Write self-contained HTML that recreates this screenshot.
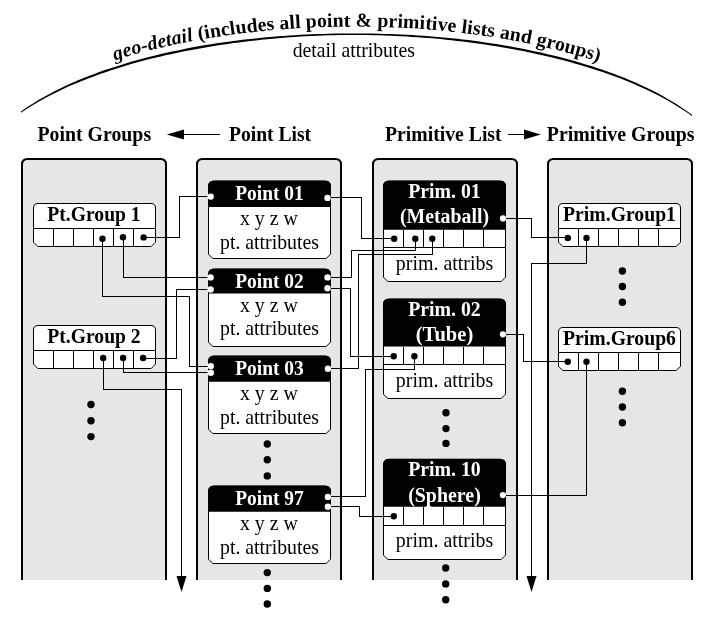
<!DOCTYPE html>
<html><head><meta charset="utf-8"><title>geo-detail</title>
<style>html,body{margin:0;padding:0;background:#fff;}svg{display:block;will-change:transform;}text{font-family:"Liberation Serif",serif;}</style></head><body>
<svg width="718" height="618" viewBox="0 0 718 618">
<rect width="718" height="618" fill="#fff"/>
<path d="M21.0 111.4 L26.6 107.5 L32.2 103.9 L37.8 100.5 L43.4 97.2 L49.0 94.2 L54.5 91.3 L60.1 88.5 L65.7 85.8 L71.3 83.3 L76.9 80.8 L82.5 78.5 L88.1 76.3 L93.7 74.2 L99.3 72.1 L104.9 70.1 L110.5 68.2 L116.1 66.4 L121.7 64.7 L127.2 63.0 L132.8 61.3 L138.4 59.8 L144.0 58.3 L149.6 56.8 L155.2 55.4 L160.8 54.1 L166.4 52.8 L172.0 51.6 L177.6 50.4 L183.2 49.2 L188.8 48.1 L194.3 47.1 L199.9 46.1 L205.5 45.1 L211.1 44.2 L216.7 43.3 L222.3 42.5 L227.9 41.7 L233.5 41.0 L239.1 40.3 L244.7 39.6 L250.3 39.0 L255.8 38.4 L261.4 37.8 L267.0 37.3 L272.6 36.8 L278.2 36.3 L283.8 35.9 L289.4 35.5 L295.0 35.2 L300.6 34.8 L306.2 34.6 L311.8 34.3 L317.4 34.1 L322.9 33.9 L328.5 33.7 L334.1 33.6 L339.7 33.5 L345.3 33.5 L350.9 33.5 L356.5 33.5 L362.1 33.5 L367.7 33.5 L373.3 33.6 L378.9 33.7 L384.5 33.9 L390.1 34.0 L395.6 34.3 L401.2 34.5 L406.8 34.8 L412.4 35.1 L418.0 35.4 L423.6 35.8 L429.2 36.2 L434.8 36.7 L440.4 37.2 L446.0 37.7 L451.6 38.3 L457.1 38.8 L462.7 39.5 L468.3 40.1 L473.9 40.8 L479.5 41.6 L485.1 42.4 L490.7 43.2 L496.3 44.1 L501.9 45.0 L507.5 45.9 L513.1 46.9 L518.7 48.0 L524.2 49.0 L529.8 50.2 L535.4 51.4 L541.0 52.6 L546.6 53.9 L552.2 55.2 L557.8 56.6 L563.4 58.0 L569.0 59.5 L574.6 61.1 L580.2 62.7 L585.8 64.4 L591.4 66.1 L596.9 67.9 L602.5 69.8 L608.1 71.7 L613.7 73.8 L619.3 75.9 L624.9 78.1 L630.5 80.4 L636.1 82.8 L641.7 85.4 L647.3 88.0 L652.9 90.8 L658.5 93.6 L664.0 96.7 L669.6 99.9 L675.2 103.3 L680.8 106.9 L686.4 110.7 L692.0 114.8 L692.0 116.1 L686.4 112.1 L680.8 108.4 L675.2 104.9 L669.6 101.6 L664.0 98.5 L658.5 95.5 L652.9 92.7 L647.3 90.0 L641.7 87.4 L636.1 84.9 L630.5 82.6 L624.9 80.3 L619.3 78.1 L613.7 76.0 L608.1 74.0 L602.5 72.1 L596.9 70.2 L591.4 68.4 L585.8 66.7 L580.2 65.0 L574.6 63.4 L569.0 61.8 L563.4 60.3 L557.8 58.9 L552.2 57.5 L546.6 56.2 L541.0 54.9 L535.4 53.7 L529.8 52.5 L524.2 51.3 L518.7 50.3 L513.1 49.2 L507.5 48.2 L501.9 47.2 L496.3 46.3 L490.7 45.4 L485.1 44.6 L479.5 43.7 L473.9 43.0 L468.3 42.2 L462.7 41.5 L457.1 40.9 L451.6 40.3 L446.0 39.7 L440.4 39.1 L434.8 38.6 L429.2 38.1 L423.6 37.7 L418.0 37.3 L412.4 36.9 L406.8 36.5 L401.2 36.2 L395.6 35.9 L390.1 35.7 L384.5 35.5 L378.9 35.3 L373.3 35.2 L367.7 35.1 L362.1 35.0 L356.5 34.9 L350.9 34.9 L345.3 35.0 L339.7 35.1 L334.1 35.2 L328.5 35.3 L322.9 35.5 L317.4 35.7 L311.8 36.0 L306.2 36.3 L300.6 36.6 L295.0 36.9 L289.4 37.3 L283.8 37.7 L278.2 38.2 L272.6 38.7 L267.0 39.2 L261.4 39.8 L255.8 40.4 L250.3 41.0 L244.7 41.7 L239.1 42.4 L233.5 43.1 L227.9 43.9 L222.3 44.7 L216.7 45.6 L211.1 46.5 L205.5 47.4 L199.9 48.4 L194.3 49.4 L188.8 50.4 L183.2 51.5 L177.6 52.7 L172.0 53.9 L166.4 55.1 L160.8 56.4 L155.2 57.7 L149.6 59.1 L144.0 60.6 L138.4 62.1 L132.8 63.6 L127.2 65.3 L121.7 67.0 L116.1 68.7 L110.5 70.5 L104.9 72.4 L99.3 74.3 L93.7 76.4 L88.1 78.5 L82.5 80.7 L76.9 83.0 L71.3 85.3 L65.7 87.8 L60.1 90.4 L54.5 93.2 L49.0 96.0 L43.4 99.0 L37.8 102.2 L32.2 105.5 L26.6 109.1 L21.0 112.8 Z" fill="#000"/>
<defs><path id="tp" d="M21.0 104.5 L26.6 100.7 L32.2 97.1 L37.8 93.7 L43.4 90.5 L49.0 87.5 L54.5 84.6 L60.1 81.9 L65.7 79.2 L71.3 76.7 L76.9 74.3 L82.5 72.0 L88.1 69.8 L93.7 67.7 L99.3 65.6 L104.9 63.7 L110.5 61.8 L116.1 60.0 L121.7 58.2 L127.2 56.5 L132.8 54.9 L138.4 53.3 L144.0 51.8 L149.6 50.4 L155.2 49.0 L160.8 47.7 L166.4 46.4 L172.0 45.1 L177.6 43.9 L183.2 42.8 L188.8 41.7 L194.3 40.6 L199.9 39.6 L205.5 38.7 L211.1 37.7 L216.7 36.9 L222.3 36.0 L227.9 35.2 L233.5 34.4 L239.1 33.7 L244.7 33.0 L250.3 32.4 L255.8 31.8 L261.4 31.2 L267.0 30.6 L272.6 30.1 L278.2 29.7 L283.8 29.2 L289.4 28.8 L295.0 28.4 L300.6 28.1 L306.2 27.8 L311.8 27.5 L317.4 27.3 L322.9 27.1 L328.5 26.9 L334.1 26.8 L339.7 26.7 L345.3 26.6 L350.9 26.6 L356.5 26.6 L362.1 26.6 L367.7 26.7 L373.3 26.8 L378.9 26.9 L384.5 27.1 L390.1 27.3 L395.6 27.5 L401.2 27.8 L406.8 28.1 L412.4 28.4 L418.0 28.8 L423.6 29.1 L429.2 29.6 L434.8 30.0 L440.4 30.5 L446.0 31.1 L451.6 31.7 L457.1 32.3 L462.7 32.9 L468.3 33.6 L473.9 34.3 L479.5 35.1 L485.1 35.9 L490.7 36.7 L496.3 37.6 L501.9 38.5 L507.5 39.5 L513.1 40.5 L518.7 41.5 L524.2 42.6 L529.8 43.7 L535.4 44.9 L541.0 46.1 L546.6 47.4 L552.2 48.8 L557.8 50.1 L563.4 51.6 L569.0 53.1 L574.6 54.6 L580.2 56.2 L585.8 57.9 L591.4 59.6 L596.9 61.4 L602.5 63.3 L608.1 65.3 L613.7 67.3 L619.3 69.4 L624.9 71.6 L630.5 73.9 L636.1 76.3 L641.7 78.8 L647.3 81.4 L652.9 84.1 L658.5 87.0 L664.0 90.0 L669.6 93.1 L675.2 96.5 L680.8 100.0 L686.4 103.8 L692.0 107.9"/></defs>
<text font-size="19.7" font-weight="bold" textLength="490.6" lengthAdjust="spacing"><textPath href="#tp" startOffset="104.1" textLength="490.6" lengthAdjust="spacing"><tspan font-style="italic">geo-detail</tspan> (includes all point &amp; primitive lists and groups)</textPath></text>
<text x="353.8" y="57" font-size="20.3" text-anchor="middle" fill="#000" textLength="122.3" lengthAdjust="spacingAndGlyphs">detail attributes</text>
<text x="37.5" y="140.8" font-size="20.3" text-anchor="start" fill="#000" font-weight="bold" textLength="113.6" lengthAdjust="spacingAndGlyphs">Point Groups</text>
<text x="229" y="140.8" font-size="20.3" text-anchor="start" fill="#000" font-weight="bold" textLength="82.1" lengthAdjust="spacingAndGlyphs">Point List</text>
<text x="385" y="140.8" font-size="20.3" text-anchor="start" fill="#000" font-weight="bold" textLength="116.6" lengthAdjust="spacingAndGlyphs">Primitive List</text>
<text x="546.8" y="140.8" font-size="20.3" text-anchor="start" fill="#000" font-weight="bold" textLength="147.8" lengthAdjust="spacingAndGlyphs">Primitive Groups</text>
<path d="M180 134.5 L220 134.5" fill="none" stroke="#000" stroke-width="1" shape-rendering="crispEdges"/>
<path d="M166.8 134.5 L184 129.5 L184 139.5 Z" fill="#000"/>
<path d="M508 134.5 L528 134.5" fill="none" stroke="#000" stroke-width="1" shape-rendering="crispEdges"/>
<path d="M540.8 134.5 L524 129.5 L524 139.5 Z" fill="#000"/>
<path d="M22 580 L22 164.5 Q22 159 27.5 159 L160.5 159 Q166 159 166 164.5 L166 580" fill="#e6e6e6" stroke="none"/>
<path d="M22 580 L22 164.5 Q22 159 27.5 159 L160.5 159 Q166 159 166 164.5 L166 580" fill="none" stroke="#000" stroke-width="2"/>
<path d="M197 580 L197 164.5 Q197 159 202.5 159 L335.5 159 Q341 159 341 164.5 L341 580" fill="#e6e6e6" stroke="none"/>
<path d="M197 580 L197 164.5 Q197 159 202.5 159 L335.5 159 Q341 159 341 164.5 L341 580" fill="none" stroke="#000" stroke-width="2"/>
<path d="M373 580 L373 164.5 Q373 159 378.5 159 L511.5 159 Q517 159 517 164.5 L517 580" fill="#e6e6e6" stroke="none"/>
<path d="M373 580 L373 164.5 Q373 159 378.5 159 L511.5 159 Q517 159 517 164.5 L517 580" fill="none" stroke="#000" stroke-width="2"/>
<path d="M548 580 L548 164.5 Q548 159 553.5 159 L686.5 159 Q692 159 692 164.5 L692 580" fill="#e6e6e6" stroke="none"/>
<path d="M548 580 L548 164.5 Q548 159 553.5 159 L686.5 159 Q692 159 692 164.5 L692 580" fill="none" stroke="#000" stroke-width="2"/>
<path d="M38.0 203.5 L151.0 203.5 Q155.5 203.5 155.5 208.0 L155.5 242.2 L151.2 246.5 L37.8 246.5 L33.5 242.2 L33.5 208.0 Q33.5 203.5 38.0 203.5 Z" fill="#fff" stroke="#000" stroke-width="1"/>
<path d="M33.5 228.5 L155.5 228.5" fill="none" stroke="#000" stroke-width="1" shape-rendering="crispEdges"/>
<path d="M53.5 228.5 L53.5 246.5" fill="none" stroke="#000" stroke-width="1" shape-rendering="crispEdges"/>
<path d="M73.5 228.5 L73.5 246.5" fill="none" stroke="#000" stroke-width="1" shape-rendering="crispEdges"/>
<path d="M93.5 228.5 L93.5 246.5" fill="none" stroke="#000" stroke-width="1" shape-rendering="crispEdges"/>
<path d="M113.5 228.5 L113.5 246.5" fill="none" stroke="#000" stroke-width="1" shape-rendering="crispEdges"/>
<path d="M133.5 228.5 L133.5 246.5" fill="none" stroke="#000" stroke-width="1" shape-rendering="crispEdges"/>
<text x="94" y="220.5" font-size="20.3" text-anchor="middle" fill="#000" font-weight="bold" textLength="93.3" lengthAdjust="spacingAndGlyphs">Pt.Group 1</text>
<path d="M38.0 325.5 L151.0 325.5 Q155.5 325.5 155.5 330.0 L155.5 364.2 L151.2 368.5 L37.8 368.5 L33.5 364.2 L33.5 330.0 Q33.5 325.5 38.0 325.5 Z" fill="#fff" stroke="#000" stroke-width="1"/>
<path d="M33.5 350.5 L155.5 350.5" fill="none" stroke="#000" stroke-width="1" shape-rendering="crispEdges"/>
<path d="M53.5 350.5 L53.5 368.5" fill="none" stroke="#000" stroke-width="1" shape-rendering="crispEdges"/>
<path d="M73.5 350.5 L73.5 368.5" fill="none" stroke="#000" stroke-width="1" shape-rendering="crispEdges"/>
<path d="M93.5 350.5 L93.5 368.5" fill="none" stroke="#000" stroke-width="1" shape-rendering="crispEdges"/>
<path d="M113.5 350.5 L113.5 368.5" fill="none" stroke="#000" stroke-width="1" shape-rendering="crispEdges"/>
<path d="M133.5 350.5 L133.5 368.5" fill="none" stroke="#000" stroke-width="1" shape-rendering="crispEdges"/>
<text x="94" y="342.5" font-size="20.3" text-anchor="middle" fill="#000" font-weight="bold" textLength="93.3" lengthAdjust="spacingAndGlyphs">Pt.Group 2</text>
<path d="M563.0 203.5 L676.0 203.5 Q680.5 203.5 680.5 208.0 L680.5 242.2 L676.2 246.5 L562.8 246.5 L558.5 242.2 L558.5 208.0 Q558.5 203.5 563.0 203.5 Z" fill="#fff" stroke="#000" stroke-width="1"/>
<path d="M558.5 228.5 L680.5 228.5" fill="none" stroke="#000" stroke-width="1" shape-rendering="crispEdges"/>
<path d="M578.5 228.5 L578.5 246.5" fill="none" stroke="#000" stroke-width="1" shape-rendering="crispEdges"/>
<path d="M598.5 228.5 L598.5 246.5" fill="none" stroke="#000" stroke-width="1" shape-rendering="crispEdges"/>
<path d="M618.5 228.5 L618.5 246.5" fill="none" stroke="#000" stroke-width="1" shape-rendering="crispEdges"/>
<path d="M638.5 228.5 L638.5 246.5" fill="none" stroke="#000" stroke-width="1" shape-rendering="crispEdges"/>
<path d="M658.5 228.5 L658.5 246.5" fill="none" stroke="#000" stroke-width="1" shape-rendering="crispEdges"/>
<text x="619.5" y="220.5" font-size="20.3" text-anchor="middle" fill="#000" font-weight="bold" textLength="112.9" lengthAdjust="spacingAndGlyphs">Prim.Group1</text>
<path d="M563.0 327.5 L676.0 327.5 Q680.5 327.5 680.5 332.0 L680.5 366.2 L676.2 370.5 L562.8 370.5 L558.5 366.2 L558.5 332.0 Q558.5 327.5 563.0 327.5 Z" fill="#fff" stroke="#000" stroke-width="1"/>
<path d="M558.5 352.5 L680.5 352.5" fill="none" stroke="#000" stroke-width="1" shape-rendering="crispEdges"/>
<path d="M578.5 352.5 L578.5 370.5" fill="none" stroke="#000" stroke-width="1" shape-rendering="crispEdges"/>
<path d="M598.5 352.5 L598.5 370.5" fill="none" stroke="#000" stroke-width="1" shape-rendering="crispEdges"/>
<path d="M618.5 352.5 L618.5 370.5" fill="none" stroke="#000" stroke-width="1" shape-rendering="crispEdges"/>
<path d="M638.5 352.5 L638.5 370.5" fill="none" stroke="#000" stroke-width="1" shape-rendering="crispEdges"/>
<path d="M658.5 352.5 L658.5 370.5" fill="none" stroke="#000" stroke-width="1" shape-rendering="crispEdges"/>
<text x="619.5" y="344.5" font-size="20.3" text-anchor="middle" fill="#000" font-weight="bold" textLength="112.9" lengthAdjust="spacingAndGlyphs">Prim.Group6</text>
<path d="M214.5 181 L324.5 181 Q330.5 181 330.5 187 L330.5 254.2 L326.2 258.5 L212.8 258.5 L208.5 254.2 L208.5 187 Q208.5 181 214.5 181 Z" fill="#fff" stroke="#000" stroke-width="1"/>
<path d="M208.0 207 L208.0 186.3 Q208.0 180.8 213.5 180.8 L325.5 180.8 Q331.0 180.8 331.0 186.3 L331.0 207 Z" fill="#000"/>
<text x="269.5" y="200.3" font-size="20.3" text-anchor="middle" fill="#fff" font-weight="bold" textLength="68.6" lengthAdjust="spacingAndGlyphs">Point 01</text>
<text x="268.9" y="225.2" font-size="20.3" text-anchor="middle" fill="#000" textLength="58" lengthAdjust="spacingAndGlyphs">x y z w</text>
<text x="269.5" y="248.8" font-size="20.3" text-anchor="middle" fill="#000" textLength="99" lengthAdjust="spacingAndGlyphs">pt. attributes</text>
<path d="M214.5 269 L324.5 269 Q330.5 269 330.5 275 L330.5 342.2 L326.2 346.5 L212.8 346.5 L208.5 342.2 L208.5 275 Q208.5 269 214.5 269 Z" fill="#fff" stroke="#000" stroke-width="1"/>
<path d="M208.0 293.6 L208.0 274.3 Q208.0 268.8 213.5 268.8 L325.5 268.8 Q331.0 268.8 331.0 274.3 L331.0 293.6 Z" fill="#000"/>
<text x="269.5" y="288.3" font-size="20.3" text-anchor="middle" fill="#fff" font-weight="bold" textLength="68.6" lengthAdjust="spacingAndGlyphs">Point 02</text>
<text x="268.9" y="311.8" font-size="20.3" text-anchor="middle" fill="#000" textLength="58" lengthAdjust="spacingAndGlyphs">x y z w</text>
<text x="269.5" y="335.40000000000003" font-size="20.3" text-anchor="middle" fill="#000" textLength="99" lengthAdjust="spacingAndGlyphs">pt. attributes</text>
<path d="M214.5 356 L324.5 356 Q330.5 356 330.5 362 L330.5 429.2 L326.2 433.5 L212.8 433.5 L208.5 429.2 L208.5 362 Q208.5 356 214.5 356 Z" fill="#fff" stroke="#000" stroke-width="1"/>
<path d="M208.0 381.7 L208.0 361.3 Q208.0 355.8 213.5 355.8 L325.5 355.8 Q331.0 355.8 331.0 361.3 L331.0 381.7 Z" fill="#000"/>
<text x="269.5" y="375.3" font-size="20.3" text-anchor="middle" fill="#fff" font-weight="bold" textLength="68.6" lengthAdjust="spacingAndGlyphs">Point 03</text>
<text x="268.9" y="399.9" font-size="20.3" text-anchor="middle" fill="#000" textLength="58" lengthAdjust="spacingAndGlyphs">x y z w</text>
<text x="269.5" y="423.5" font-size="20.3" text-anchor="middle" fill="#000" textLength="99" lengthAdjust="spacingAndGlyphs">pt. attributes</text>
<path d="M214.5 486 L324.5 486 Q330.5 486 330.5 492 L330.5 559.2 L326.2 563.5 L212.8 563.5 L208.5 559.2 L208.5 492 Q208.5 486 214.5 486 Z" fill="#fff" stroke="#000" stroke-width="1"/>
<path d="M208.0 511.7 L208.0 491.3 Q208.0 485.8 213.5 485.8 L325.5 485.8 Q331.0 485.8 331.0 491.3 L331.0 511.7 Z" fill="#000"/>
<text x="269.5" y="505.3" font-size="20.3" text-anchor="middle" fill="#fff" font-weight="bold" textLength="68.6" lengthAdjust="spacingAndGlyphs">Point 97</text>
<text x="268.9" y="529.9" font-size="20.3" text-anchor="middle" fill="#000" textLength="58" lengthAdjust="spacingAndGlyphs">x y z w</text>
<text x="269.5" y="553.5" font-size="20.3" text-anchor="middle" fill="#000" textLength="99" lengthAdjust="spacingAndGlyphs">pt. attributes</text>
<path d="M389.5 181 L499.5 181 Q505.5 181 505.5 187 L505.5 277.2 L501.2 281.5 L387.8 281.5 L383.5 277.2 L383.5 187 Q383.5 181 389.5 181 Z" fill="#fff" stroke="#000" stroke-width="1"/>
<path d="M383.0 229.7 L383.0 186.3 Q383.0 180.8 388.5 180.8 L500.5 180.8 Q506.0 180.8 506.0 186.3 L506.0 229.7 Z" fill="#000"/>
<text x="444.5" y="198.0" font-size="20.3" text-anchor="middle" fill="#fff" font-weight="bold" textLength="72.5" lengthAdjust="spacingAndGlyphs">Prim. 01</text>
<text x="444.5" y="223.3" font-size="20.3" text-anchor="middle" fill="#fff" font-weight="bold" textLength="89" lengthAdjust="spacingAndGlyphs">(Metaball)</text>
<path d="M383.5 247.5 L505.5 247.5" fill="none" stroke="#000" stroke-width="1" shape-rendering="crispEdges"/>
<path d="M403.5 229.7 L403.5 247.5" fill="none" stroke="#000" stroke-width="1" shape-rendering="crispEdges"/>
<path d="M423.5 229.7 L423.5 247.5" fill="none" stroke="#000" stroke-width="1" shape-rendering="crispEdges"/>
<path d="M443.5 229.7 L443.5 247.5" fill="none" stroke="#000" stroke-width="1" shape-rendering="crispEdges"/>
<path d="M463.5 229.7 L463.5 247.5" fill="none" stroke="#000" stroke-width="1" shape-rendering="crispEdges"/>
<path d="M483.5 229.7 L483.5 247.5" fill="none" stroke="#000" stroke-width="1" shape-rendering="crispEdges"/>
<text x="444.5" y="269.5" font-size="20.3" text-anchor="middle" fill="#000" textLength="97.3" lengthAdjust="spacingAndGlyphs">prim. attribs</text>
<path d="M389.5 299 L499.5 299 Q505.5 299 505.5 305 L505.5 394.2 L501.2 398.5 L387.8 398.5 L383.5 394.2 L383.5 305 Q383.5 299 389.5 299 Z" fill="#fff" stroke="#000" stroke-width="1"/>
<path d="M383.0 346.6 L383.0 304.3 Q383.0 298.8 388.5 298.8 L500.5 298.8 Q506.0 298.8 506.0 304.3 L506.0 346.6 Z" fill="#000"/>
<text x="444.5" y="316.0" font-size="20.3" text-anchor="middle" fill="#fff" font-weight="bold" textLength="72.5" lengthAdjust="spacingAndGlyphs">Prim. 02</text>
<text x="444.5" y="341.3" font-size="20.3" text-anchor="middle" fill="#fff" font-weight="bold" textLength="57.5" lengthAdjust="spacingAndGlyphs">(Tube)</text>
<path d="M383.5 364.5 L505.5 364.5" fill="none" stroke="#000" stroke-width="1" shape-rendering="crispEdges"/>
<path d="M403.5 346.6 L403.5 364.5" fill="none" stroke="#000" stroke-width="1" shape-rendering="crispEdges"/>
<path d="M423.5 346.6 L423.5 364.5" fill="none" stroke="#000" stroke-width="1" shape-rendering="crispEdges"/>
<path d="M443.5 346.6 L443.5 364.5" fill="none" stroke="#000" stroke-width="1" shape-rendering="crispEdges"/>
<path d="M463.5 346.6 L463.5 364.5" fill="none" stroke="#000" stroke-width="1" shape-rendering="crispEdges"/>
<path d="M483.5 346.6 L483.5 364.5" fill="none" stroke="#000" stroke-width="1" shape-rendering="crispEdges"/>
<text x="444.5" y="386.5" font-size="20.3" text-anchor="middle" fill="#000" textLength="97.3" lengthAdjust="spacingAndGlyphs">prim. attribs</text>
<path d="M389.5 459.2 L499.5 459.2 Q505.5 459.2 505.5 465.2 L505.5 555.2 L501.2 559.5 L387.8 559.5 L383.5 555.2 L383.5 465.2 Q383.5 459.2 389.5 459.2 Z" fill="#fff" stroke="#000" stroke-width="1"/>
<path d="M383.0 506.7 L383.0 464.5 Q383.0 459.0 388.5 459.0 L500.5 459.0 Q506.0 459.0 506.0 464.5 L506.0 506.7 Z" fill="#000"/>
<text x="444.5" y="476.2" font-size="20.3" text-anchor="middle" fill="#fff" font-weight="bold" textLength="72.5" lengthAdjust="spacingAndGlyphs">Prim. 10</text>
<text x="444.5" y="501.5" font-size="20.3" text-anchor="middle" fill="#fff" font-weight="bold" textLength="72.7" lengthAdjust="spacingAndGlyphs">(Sphere)</text>
<path d="M383.5 525.5 L505.5 525.5" fill="none" stroke="#000" stroke-width="1" shape-rendering="crispEdges"/>
<path d="M403.5 506.7 L403.5 525.5" fill="none" stroke="#000" stroke-width="1" shape-rendering="crispEdges"/>
<path d="M423.5 506.7 L423.5 525.5" fill="none" stroke="#000" stroke-width="1" shape-rendering="crispEdges"/>
<path d="M443.5 506.7 L443.5 525.5" fill="none" stroke="#000" stroke-width="1" shape-rendering="crispEdges"/>
<path d="M463.5 506.7 L463.5 525.5" fill="none" stroke="#000" stroke-width="1" shape-rendering="crispEdges"/>
<path d="M483.5 506.7 L483.5 525.5" fill="none" stroke="#000" stroke-width="1" shape-rendering="crispEdges"/>
<text x="444.5" y="546.7" font-size="20.3" text-anchor="middle" fill="#000" textLength="97.3" lengthAdjust="spacingAndGlyphs">prim. attribs</text>
<path d="M143.5 237.5 L179.5 237.5 L179.5 196.5 L211 196.5" fill="none" stroke="#000" stroke-width="1" shape-rendering="crispEdges"/>
<path d="M123.5 237.5 L123.5 277.5 L211 277.5" fill="none" stroke="#000" stroke-width="1" shape-rendering="crispEdges"/>
<path d="M102.5 238.5 L102.5 296.5 L189.5 296.5 L189.5 366.5 L211 366.5" fill="none" stroke="#000" stroke-width="1" shape-rendering="crispEdges"/>
<path d="M143 358.5 L176.5 358.5 L176.5 289.5 L211 289.5" fill="none" stroke="#000" stroke-width="1" shape-rendering="crispEdges"/>
<path d="M123.5 358 L123.5 372.5 L211 372.5" fill="none" stroke="#000" stroke-width="1" shape-rendering="crispEdges"/>
<path d="M103.5 358 L103.5 389.5 L181.5 389.5 L181.5 578" fill="none" stroke="#000" stroke-width="1" shape-rendering="crispEdges"/>
<path d="M181.5 592 L176.5 576 L186.5 576 Z" fill="#000"/>
<path d="M327.5 197.5 L361.5 197.5 L361.5 238.5 L394 238.5" fill="none" stroke="#000" stroke-width="1" shape-rendering="crispEdges"/>
<path d="M327.5 277.5 L351.5 277.5 L351.5 250.5 L415.5 250.5 L415.5 238.5" fill="none" stroke="#000" stroke-width="1" shape-rendering="crispEdges"/>
<path d="M327.5 288.5 L350.5 288.5 L350.5 356.5 L393.6 356.5" fill="none" stroke="#000" stroke-width="1" shape-rendering="crispEdges"/>
<path d="M327.6 368.5 L358.5 368.5 L358.5 254.5 L432.5 254.5 L432.5 238.5" fill="none" stroke="#000" stroke-width="1" shape-rendering="crispEdges"/>
<path d="M327.7 496.5 L365.5 496.5 L365.5 369.5 L414.5 369.5 L414.5 356.5" fill="none" stroke="#000" stroke-width="1" shape-rendering="crispEdges"/>
<path d="M327.7 506.5 L359.5 506.5 L359.5 516.5 L394 516.5" fill="none" stroke="#000" stroke-width="1" shape-rendering="crispEdges"/>
<path d="M503 218.5 L531.5 218.5 L531.5 237.5 L568 237.5" fill="none" stroke="#000" stroke-width="1" shape-rendering="crispEdges"/>
<path d="M586.5 237.5 L586.5 263.5 L531.5 263.5 L531.5 578" fill="none" stroke="#000" stroke-width="1" shape-rendering="crispEdges"/>
<path d="M531.5 592 L526.5 576 L536.5 576 Z" fill="#000"/>
<path d="M502.8 334.5 L523.5 334.5 L523.5 361.5 L568 361.5" fill="none" stroke="#000" stroke-width="1" shape-rendering="crispEdges"/>
<path d="M586.5 361.7 L586.5 495.5 L503 495.5" fill="none" stroke="#000" stroke-width="1" shape-rendering="crispEdges"/>
<circle cx="102.5" cy="238.7" r="3.2" fill="#000"/>
<circle cx="123" cy="237.3" r="3.2" fill="#000"/>
<circle cx="143.6" cy="237.4" r="3.2" fill="#000"/>
<circle cx="103.2" cy="358" r="3.2" fill="#000"/>
<circle cx="123.1" cy="358" r="3.2" fill="#000"/>
<circle cx="143.1" cy="358" r="3.2" fill="#000"/>
<circle cx="394.2" cy="238.7" r="3.2" fill="#000"/>
<circle cx="415.3" cy="238.7" r="3.2" fill="#000"/>
<circle cx="432.3" cy="238.7" r="3.2" fill="#000"/>
<circle cx="393.7" cy="356.2" r="3.2" fill="#000"/>
<circle cx="414.4" cy="356.2" r="3.2" fill="#000"/>
<circle cx="393.8" cy="516.2" r="3.2" fill="#000"/>
<circle cx="567.8" cy="237.9" r="3.2" fill="#000"/>
<circle cx="586.5" cy="237.9" r="3.2" fill="#000"/>
<circle cx="567.8" cy="361.8" r="3.2" fill="#000"/>
<circle cx="586.5" cy="361.8" r="3.2" fill="#000"/>
<circle cx="210.7" cy="196.6" r="3.2" fill="#fff"/>
<circle cx="327.5" cy="197.9" r="3.2" fill="#fff"/>
<circle cx="210.6" cy="277.4" r="3.2" fill="#fff"/>
<circle cx="210.6" cy="289.5" r="3.2" fill="#fff"/>
<circle cx="327.5" cy="277.4" r="3.2" fill="#fff"/>
<circle cx="327.5" cy="288.2" r="3.2" fill="#fff"/>
<circle cx="210.8" cy="366.1" r="3.2" fill="#fff"/>
<circle cx="210.8" cy="372.7" r="3.2" fill="#fff"/>
<circle cx="327.9" cy="368.8" r="3.2" fill="#fff"/>
<circle cx="327.9" cy="496.9" r="3.2" fill="#fff"/>
<circle cx="327.9" cy="506.8" r="3.2" fill="#fff"/>
<circle cx="503" cy="218.4" r="3.1" fill="#fff"/>
<circle cx="502.9" cy="334.3" r="3.1" fill="#fff"/>
<circle cx="502.9" cy="495.1" r="3.1" fill="#fff"/>
<circle cx="91" cy="404.5" r="3.7" fill="#000"/>
<circle cx="91" cy="420.8" r="3.7" fill="#000"/>
<circle cx="91" cy="436.6" r="3.7" fill="#000"/>
<circle cx="267.3" cy="444" r="3.7" fill="#000"/>
<circle cx="267.3" cy="459.7" r="3.7" fill="#000"/>
<circle cx="267.3" cy="475.9" r="3.7" fill="#000"/>
<circle cx="267.3" cy="572.6" r="3.7" fill="#000"/>
<circle cx="267.3" cy="588.4" r="3.7" fill="#000"/>
<circle cx="267.3" cy="604" r="3.7" fill="#000"/>
<circle cx="446" cy="412.8" r="3.7" fill="#000"/>
<circle cx="446" cy="428.6" r="3.7" fill="#000"/>
<circle cx="446" cy="443.4" r="3.7" fill="#000"/>
<circle cx="445.7" cy="568" r="3.7" fill="#000"/>
<circle cx="445.7" cy="583.9" r="3.7" fill="#000"/>
<circle cx="445.7" cy="599.8" r="3.7" fill="#000"/>
<circle cx="622.4" cy="271" r="3.7" fill="#000"/>
<circle cx="622.4" cy="286.5" r="3.7" fill="#000"/>
<circle cx="622.4" cy="302.3" r="3.7" fill="#000"/>
<circle cx="622.4" cy="391.3" r="3.7" fill="#000"/>
<circle cx="622.4" cy="407" r="3.7" fill="#000"/>
<circle cx="622.4" cy="422.8" r="3.7" fill="#000"/>
</svg></body></html>
